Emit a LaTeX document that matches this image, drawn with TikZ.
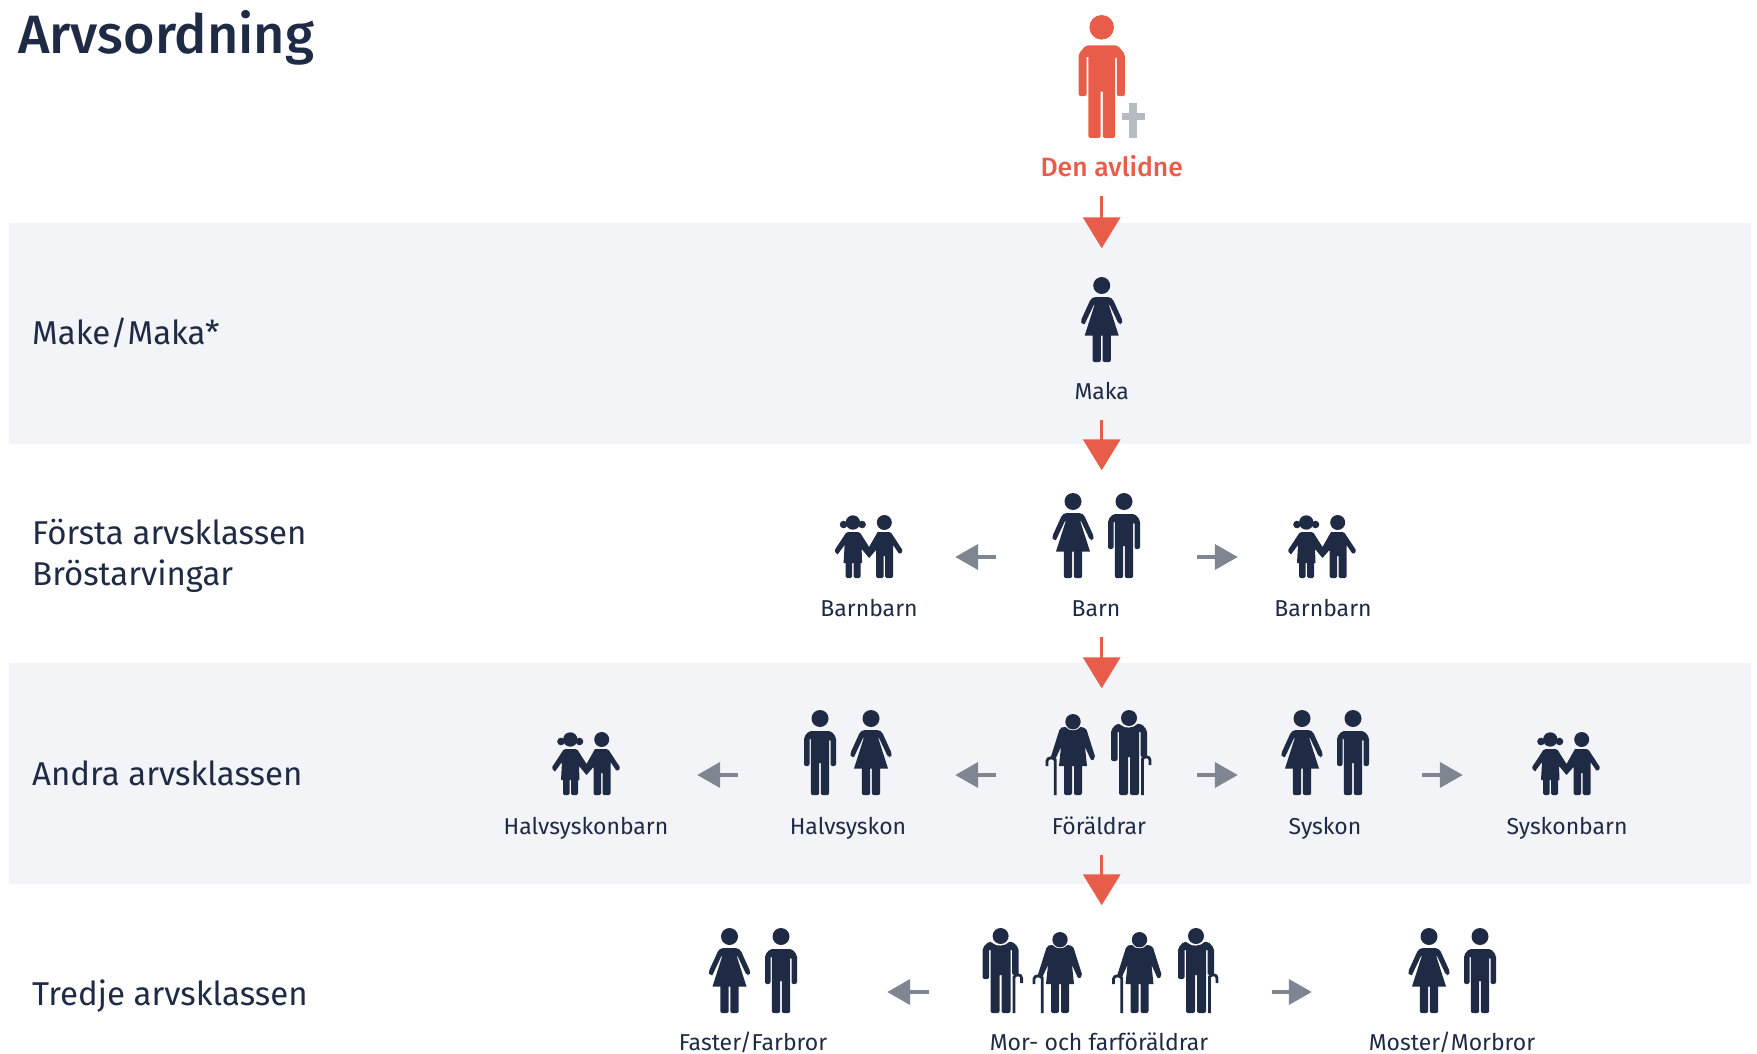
\documentclass[tikz,border=0pt]{standalone}
\usepackage{fontspec}
\setmainfont{Fira Sans}
\newfontfamily\headfont{Fira Sans}[UprightFont={* Medium}]
\usetikzlibrary{arrows.meta}
\definecolor{navy}{HTML}{1F2A44}
\definecolor{rust}{HTML}{E85D4A}
\definecolor{ash}{HTML}{7F8591}
\definecolor{crossgray}{HTML}{B8BAC2}
\definecolor{band}{HTML}{F3F4F8}

\tikzset{
	rowlabel/.style={anchor=west, inner sep=0, align=left, text=navy, font=\fontsize{33}{41}\selectfont},
	namelabel/.style={inner sep=0, minimum height=58pt, text height=16pt, text depth=0pt, text=navy, font=\fontsize{23}{27}\selectfont},
	iconbox/.style={inner sep=0, minimum height=85pt},
	redarrow/.style={rust, line width=3.5pt, -{Triangle[width=37pt,length=31pt]}, shorten >=44pt},
	grayarrow/.style={ash, line width=4pt, -{Triangle[width=25pt,length=23pt]}},
	man/.pic={
		\fill (0,8.5) circle (8.5);
		\fill[rounded corners=2pt] (-16,27) -- (-11,21) -- (11,21) -- (16,27) -- (16,56) -- (10.5,56) -- (10.5,29) -- (9.2,29) -- (9.2,85) -- (0.8,85)
			[sharp corners] -- (0.8,53) -- (-0.8,53) [rounded corners=2pt] -- (-0.8,85) -- (-9.2,85) [sharp corners] -- (-9.2,29) -- (-10.5,29) [rounded corners=2pt] -- (-10.5,56) -- (-16,56) -- cycle;
	},
	woman/.pic={
		\fill (0,8.5) circle (8.5);
		\fill[rounded corners=2pt] (-8,20) -- (8,20) -- (11,22) -- (21,44) -- (20,47.5) -- (17,47) [sharp corners] -- (8,28) -- (7.2,28) -- (17,58.5) -- (9.2,58.5) [rounded corners=2pt] -- (9.2,85) -- (0.8,85)
			[sharp corners] -- (0.8,58.5) -- (-0.8,58.5) [rounded corners=2pt] -- (-0.8,85) -- (-9.2,85) [sharp corners] -- (-9.2,58.5) -- (-17,58.5) -- (-7.2,28) -- (-8,28) -- (-17,47) [rounded corners=2pt] -- (-20,47.5) -- (-21,44) -- (-11,22) -- cycle;
	},
	oldman/.pic={
		\fill (0,8) circle (8);
		\fill[rounded corners=2pt] (-18,20) -- (-12,13.5) -- (-8.5,14) [sharp corners] .. controls (-5,18.5) and (5,18.5) .. (8.5,14) [rounded corners=2pt] -- (12,13.5) -- (18,20) -- (18,47) -- (11.5,47) [sharp corners] -- (11.5,22) -- (10,22) [rounded corners=2pt] -- (10,85) -- (1,85)
			[sharp corners] -- (1,47) -- (-1,47) [rounded corners=2pt] -- (-1,85) -- (-10,85) [sharp corners] -- (-10,22) -- (-11.5,22) [rounded corners=2pt] -- (-11.5,51) -- (-18,51) -- cycle;
		\draw[line width=2.8pt] (13.4,85) -- (13.4,49) .. controls (15,46) and (21,46) .. (21,50) -- (21,55);
	},
	oldwoman/.pic={
		\fill (0,11.7) circle (7.7);
		\fill[rounded corners=2pt] (-10,17) [sharp corners] -- (-7.5,17) .. controls (-4,21.5) and (4,21.5) .. (7.5,17) [rounded corners=2pt] -- (13,18) -- (22.5,48) -- (18.5,51) [sharp corners] -- (12,37) -- (14,56) -- (9,56) [rounded corners=2pt] -- (9,85) -- (1,85)
			[sharp corners] -- (1,56) -- (-1,56) [rounded corners=2pt] -- (-1,85) -- (-9,85) [sharp corners] -- (-9,56) -- (-14,56) -- (-12,37) -- (-18.5,51) [rounded corners=2pt] -- (-22.5,48) -- (-13,18) -- cycle;
		\draw[line width=2.8pt] (-17.7,85) -- (-17.7,50) .. controls (-19,47) and (-26,47) .. (-26,51) -- (-26,56);
	},
	kids/.pic={
		\fill (-15.7,7.5) circle (7.2);
		\fill (-25,9.5) circle (3.8);
		\fill (-6.5,9.5) circle (3.8);
		\fill (15.7,7.5) circle (7.5);
		\fill[rounded corners=1.5pt] (9,17) -- (22,17) -- (34.5,36) -- (31,39.5) [sharp corners] -- (24.5,30) [rounded corners=1.5pt] -- (24.5,63) -- (16.5,63) [sharp corners] -- (16.5,41) -- (15,41) [rounded corners=1.5pt] -- (15,63) -- (7.5,63) [sharp corners] -- (7.5,35) -- (0.5,43) -- (-7,34) -- (-6.5,48) -- (-8,48) [rounded corners=1.5pt] -- (-8,63) -- (-15,63) [sharp corners] -- (-15,48) -- (-16.5,48) [rounded corners=1.5pt] -- (-16.5,63) -- (-23,63) [sharp corners] -- (-23,48) -- (-25,48) -- (-24,30) -- (-31,39.5) [rounded corners=1.5pt] -- (-34.5,36) -- (-22,17) -- (-9,17) [sharp corners] -- (0.5,32) -- cycle;
	},
	gravecross/.pic={
		\fill (-4,0) rectangle (4,35);
		\fill (-11.5,10) rectangle (11.5,17.5);
	}
}

\begin{document}
\begin{tikzpicture}[x=1pt, y=-1pt, navy]
	\useasboundingbox (0,0) rectangle (1757,1054);

	\fill[band] (9,223) rectangle (1751,444);
	\fill[band] (9,663) rectangle (1751,884);

	\node[inner sep=0, anchor=west, text=navy, font=\headfont\fontsize{54}{64}\selectfont] (title) at (18,38) {Arvsordning};
	\node[rowlabel] (rowmake) at (32,333) {Make/Maka*};
	\node[rowlabel] (rowforsta) at (32,556) {Första arvsklassen\\Bröstarvingar};
	\node[rowlabel] (rowandra) at (32,773) {Andra arvsklassen};
	\node[rowlabel] (rowtredje) at (32,996) {Tredje arvsklassen};

	% den avlidne
	\pic[rust, scale=1.447] at (1101.7,15) {man};
	\pic[crossgray] at (1133,103) {gravecross};
	\node[namelabel, text=rust, text height=18pt, font=\headfont\fontsize{26.5}{31}\selectfont] (avlidne) at (1111.7,167) {Den avlidne};

	% make
	\node[iconbox, minimum width=42pt] (maka) at (1101.7,335) {};
	\pic at (1101.7,277) {woman};
	\node[namelabel] (makaname) at (1101.7,391) {Maka};

	% forsta arvsklassen
	\node[iconbox, minimum width=90pt] (barn) at (1101.7,557) {};
	\pic at (1073,493) {woman};
	\pic at (1124,493) {man};
	\node[namelabel] (barnname) at (1096,608) {Barn};

	\node[iconbox, minimum width=68pt] (barnbarnl) at (868.6,557) {};
	\pic at (868.6,515) {kids};
	\node[namelabel] (barnbarnlname) at (869,608) {Barnbarn};

	\node[iconbox, minimum width=68pt] (barnbarnr) at (1322,557) {};
	\pic at (1322,515) {kids};
	\node[namelabel] (barnbarnrname) at (1323,608) {Barnbarn};

	% andra arvsklassen
	\node[iconbox, minimum width=90pt] (foraldrar) at (1101.7,775) {};
	\pic at (1073,710) {oldwoman};
	\pic at (1129,710) {oldman};
	\node[namelabel] (foraldrarname) at (1099,826) {Föräldrar};

	\node[iconbox, minimum width=90pt] (halvsyskon) at (848,775) {};
	\pic at (820,710) {man};
	\pic at (871,710) {woman};
	\node[namelabel] (halvsyskonname) at (848,826) {Halvsyskon};

	\node[iconbox, minimum width=68pt] (halvbarn) at (586,775) {};
	\pic at (586,732) {kids};
	\node[namelabel] (halvbarnname) at (586,826) {Halvsyskonbarn};

	\node[iconbox, minimum width=90pt] (syskon) at (1327,775) {};
	\pic at (1302,710) {woman};
	\pic at (1353,710) {man};
	\node[namelabel] (syskonname) at (1325,826) {Syskon};

	\node[iconbox, minimum width=68pt] (syskonbarn) at (1566,775) {};
	\pic at (1566,732) {kids};
	\node[namelabel] (syskonbarnname) at (1567,826) {Syskonbarn};

	% tredje arvsklassen
	\node[iconbox, minimum width=240pt] (morfar) at (1101.7,992) {};
	\pic at (1000.6,928) {oldman};
	\pic at (1060,928) {oldwoman};
	\pic at (1139.5,928) {oldwoman};
	\pic at (1196,928) {oldman};
	\node[namelabel, minimum height=0pt] (morfarname) at (1099,1042) {Mor- och farföräldrar};

	\node[iconbox, minimum width=90pt] (faster) at (755,992) {};
	\pic at (729.5,928) {woman};
	\pic at (781,928) {man};
	\node[namelabel, minimum height=0pt] (fastername) at (753,1042) {Faster/Farbror};

	\node[iconbox, minimum width=90pt] (moster) at (1455,992) {};
	\pic at (1429,928) {woman};
	\pic at (1480,928) {man};
	\node[namelabel, minimum height=0pt] (mostername) at (1452,1042) {Moster/Morbror};

	% arrows down
	\draw[redarrow] (avlidne.south -| maka.north) -- (maka.north);
	\draw[redarrow] (makaname.south) -- (barn.north);
	\draw[redarrow] (barnname.south -| barn.north) -- (foraldrar.north);
	\draw[redarrow] (foraldrarname.south -| foraldrar.north) -- (morfar.north);

	% arrows sideways
	\draw[grayarrow, shorten <=60.7pt, shorten >=52.4pt] (barn.west) -- (barnbarnl.east);
	\draw[grayarrow, shorten <=50pt, shorten >=50pt] (barn.east) -- (barnbarnr.west);
	\draw[grayarrow, shorten <=60.7pt, shorten >=62pt] (foraldrar.west) -- (halvsyskon.east);
	\draw[grayarrow, shorten <=65pt, shorten >=77pt] (halvsyskon.west) -- (halvbarn.east);
	\draw[grayarrow, shorten <=50pt, shorten >=44pt] (foraldrar.east) -- (syskon.west);
	\draw[grayarrow, shorten <=50pt, shorten >=69pt] (syskon.east) -- (syskonbarn.west);
	\draw[grayarrow, shorten <=53pt, shorten >=87pt] (morfar.west) -- (faster.east);
	\draw[grayarrow, shorten <=50pt, shorten >=98pt] (morfar.east) -- (moster.west);
\end{tikzpicture}
\end{document}
